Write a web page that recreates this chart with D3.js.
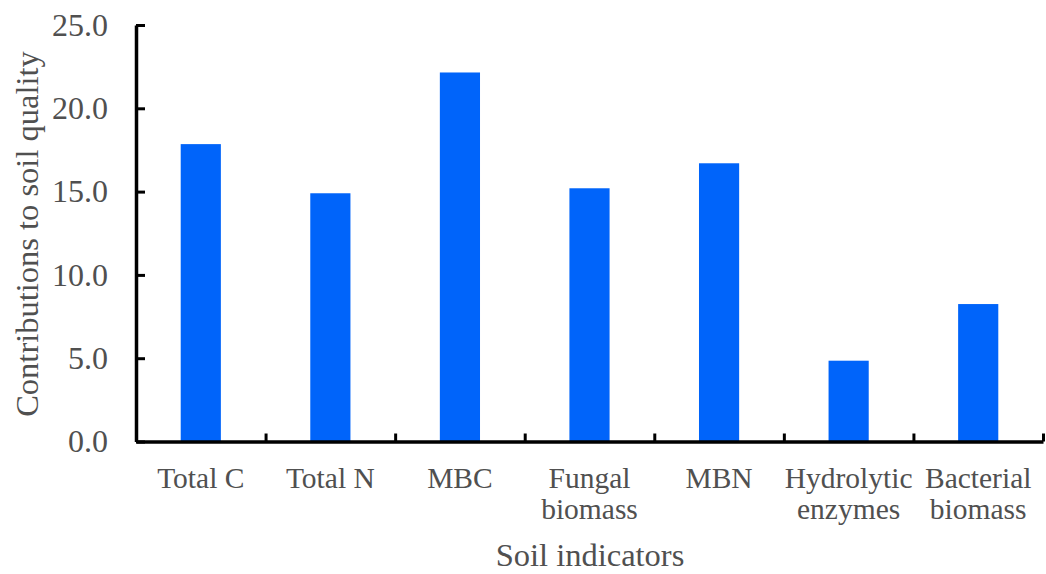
<!DOCTYPE html>
<html>
<head>
<meta charset="utf-8">
<script src="https://cdn.jsdelivr.net/npm/d3@7"></script>
<style>
  html, body { margin: 0; padding: 0; background: #fff; }
  svg { display: block; }
  text { font-family: "Liberation Serif", "Times New Roman", serif; fill: #505050; }
</style>
</head>
<body>
<svg id="chart" width="1046" height="574"></svg>
<script>
const categories = ["Total C", "Total N", "MBC", "Fungal biomass", "MBN", "Hydrolytic enzymes", "Bacterial biomass"];
const categoryLines = [["Total C"], ["Total N"], ["MBC"], ["Fungal", "biomass"], ["MBN"], ["Hydrolytic", "enzymes"], ["Bacterial", "biomass"]];
const values = [17.85, 14.9, 22.15, 15.2, 16.7, 4.85, 8.25];
const yTicks = [0, 5, 10, 15, 20, 25];
const xTitle = "Soil indicators";
const yTitle = "Contributions to soil quality";

const svg = d3.select("#chart");
const plotLeft = 136, plotRight = 1043, plotTop = 25, plotBottom = 441.5;

const x = d3.scaleBand().domain(categories).range([plotLeft, plotRight]).padding(0);
const y = d3.scaleLinear().domain([0, 25]).range([plotBottom, plotTop]);
const barW = x.bandwidth() * 0.31;

// bars
svg.append("g").selectAll("rect")
  .data(categories)
  .join("rect")
  .attr("x", (d) => x(d) + x.bandwidth() / 2 - barW / 2)
  .attr("width", barW)
  .attr("y", (d, i) => y(values[i]))
  .attr("height", (d, i) => y(0) - y(values[i]))
  .attr("fill", "#0064fa");

// y axis
const yAxis = d3.axisLeft(y).tickValues(yTicks).tickFormat(d3.format(".1f"))
  .tickSizeInner(-9).tickSizeOuter(0).tickPadding(28);
const gy = svg.append("g").attr("transform", `translate(${plotLeft},0)`).call(yAxis);
gy.select(".domain").attr("stroke", "#000").attr("stroke-width", 3.5);
gy.selectAll(".tick line").attr("stroke", "#000").attr("stroke-width", 3);
gy.selectAll(".tick text").attr("font-size", 32).attr("fill", "#505050")
  .attr("font-family", "Liberation Serif");

// x axis: boundary ticks
const bounds = categories.map((d) => x(d)).concat([plotRight]);
const xLin = d3.scaleLinear().domain([plotLeft, plotRight]).range([plotLeft, plotRight]);
const xAxis = d3.axisBottom(xLin).tickValues(bounds).tickFormat("")
  .tickSizeInner(-8).tickSizeOuter(0);
const gx = svg.append("g").attr("transform", `translate(0,${plotBottom})`).call(xAxis);
gx.select(".domain").attr("stroke", "#000").attr("stroke-width", 3.5);
gx.selectAll(".tick line").attr("stroke", "#000").attr("stroke-width", 3);

// category labels
const lab = svg.append("g").selectAll("text")
  .data(categories)
  .join("text")
  .attr("text-anchor", "middle")
  .attr("font-size", 29.5)
  .attr("x", (d) => x(d) + x.bandwidth() / 2)
  .attr("y", 488);
lab.each(function (d, i) {
  const t = d3.select(this);
  categoryLines[i].forEach((line, j) => {
    t.append("tspan")
      .attr("x", x(d) + x.bandwidth() / 2)
      .attr("dy", j === 0 ? 0 : 31)
      .text(line);
  });
});

// titles
svg.append("text").attr("text-anchor", "middle").attr("font-size", 32.5)
  .attr("x", 590).attr("y", 566).text(xTitle);
svg.append("text").attr("text-anchor", "middle").attr("font-size", 32.5)
  .attr("transform", `translate(38,234) rotate(-90)`)
  .text(yTitle);
</script>
</body>
</html>
